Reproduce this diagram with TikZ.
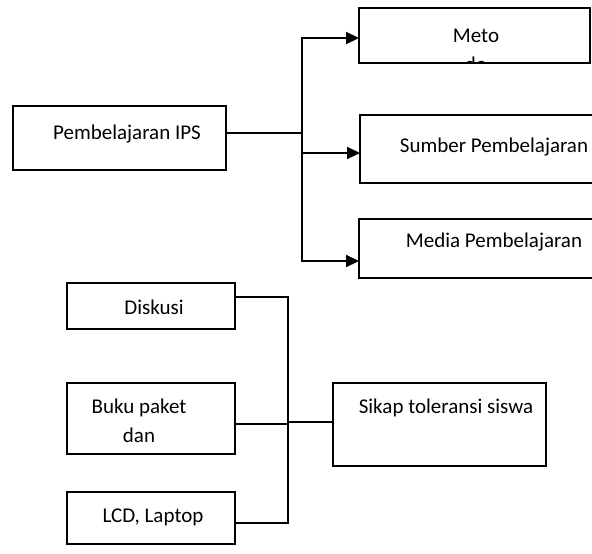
\documentclass[tikz,border=0pt]{standalone}
\usepackage{fontspec}
\setmainfont{Carlito}
\usetikzlibrary{arrows.meta}

\begin{document}
\begin{tikzpicture}[x=1pt,y=-1pt,
  box/.style={draw, line width=1.8pt, inner sep=0pt, outer sep=0pt, anchor=north west},
  smallbox/.style={box, line width=1.5pt},
  txt/.style={anchor=base, inner sep=0pt, align=center, font=\fontsize{21}{29}\selectfont},
  link/.style={line width=2.2pt},
  thinlink/.style={line width=1.3pt},
  arr/.style={link, -{Triangle[length=13pt,width=12pt]}}]
\clip (0,0) rectangle (592,554);

% upper part
\node[box, minimum width=213pt, minimum height=64pt] (ips) at (13,106) {};
\node[box, minimum width=231pt, minimum height=55pt] (meto) at (359,8) {};
\node[box, minimum width=243pt, minimum height=68pt] (sumber) at (360,115) {};
\node[box, minimum width=243pt, minimum height=59pt] (media) at (359,219) {};

\node[txt] (ipstext) at (127,139) {Pembelajaran IPS};
\begin{scope}
\clip (meto.north west) rectangle (meto.south east);
\node[txt] (metotext) at (476,71) {Meto\\do};
\end{scope}
\node[txt] (sumbertext) at (494,152) {Sumber Pembelajaran};
\node[txt] (mediatext) at (494,247) {Media Pembelajaran};

\coordinate (hub) at (302,133);
\coordinate (top) at (302,38);
\coordinate (mid) at (302,153);
\coordinate (bot) at (302,261);
\draw[link] (ips.east |- hub) -- (hub);
\draw[arr] (hub) -- (top) -- (meto.west |- top);
\draw[arr] (hub) -- (bot) -- (media.west |- bot);
\draw[arr] (mid) -- (sumber.west |- mid);

% lower part
\node[smallbox, minimum width=168pt, minimum height=46pt] (diskusi) at (67,283) {};
\node[smallbox, minimum width=168pt, minimum height=71pt] (buku) at (67,383) {};
\node[smallbox, minimum width=168pt, minimum height=52pt] (lcd) at (67,492) {};
\node[smallbox, minimum width=213pt, minimum height=83pt] (sikap) at (333,383) {};

\node[txt] (diskusitext) at (154,314) {Diskusi};
\node[txt] (bukutext) at (139,442) {Buku paket\\dan};
\node[txt] (lcdtext) at (153,522) {LCD, Laptop};
\node[txt] (sikaptext) at (446,413) {Sikap toleransi siswa};

\coordinate (b1) at (288,297);
\coordinate (b2) at (288,424);
\coordinate (b3) at (288,523);
\coordinate (hub2) at (288,422);
\draw[thinlink] (diskusi.east |- b1) -- (b1) -- (b3) -- (lcd.east |- b3);
\draw[thinlink] (buku.east |- b2) -- (b2);
\draw[thinlink] (hub2) -- (sikap.west |- hub2);
\end{tikzpicture}
\end{document}
